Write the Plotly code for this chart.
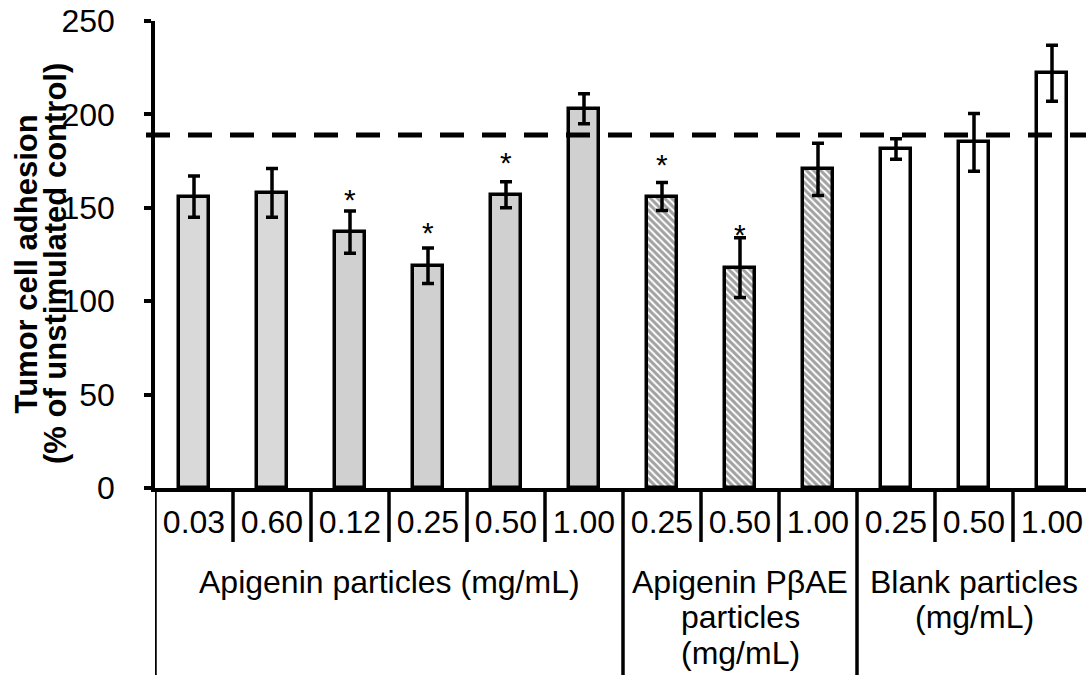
import plotly.graph_objects as go

# Concentration labels and group membership
conc_labels = ["0.03", "0.60", "0.12", "0.25", "0.50", "1.00",
               "0.25", "0.50", "1.00",
               "0.25", "0.50", "1.00"]
group_sizes = [6, 3, 3]
group_titles = [["Apigenin particles (mg/mL)"],
                ["Apigenin P\u03b2AE", "particles", "(mg/mL)"],
                ["Blank particles", "(mg/mL)"]]

# Tumor cell adhesion (% of unstimulated control) and error
adhesion = [156, 158, 137, 119, 157, 203, 156, 118, 170.6, 181.5, 185, 222]
adhesion_err = [11, 13, 11.3, 9.5, 7, 8, 7.5, 16, 14, 5.5, 15.5, 15]

# Significance markers: bar index and height of the asterisk
star_idx = [2, 3, 4, 6, 7]
star_y = [156.3, 138.3, 175.9, 175, 137.5]

# Reference level (unstimulated control baseline line)
reference_level = 189

fill_colors = ["#d9d9d9", "#d9d9d9", "#d0d0d0", "#d0d0d0", "#d0d0d0", "#d0d0d0",
               "white", "white", "white",
               "white", "white", "white"]
patterns = ["", "", "", "", "", "", "\\", "\\", "\\", "", "", ""]

FONT = "Arial, Liberation Sans, sans-serif"
LW = 3.5

W, H = 1086, 675
ML, MR, MT, MB = 155, 0, 21, 187
plot_w = W - ML - MR
plot_h = H - MT - MB
cat_px = 78.0

x = list(range(len(adhesion)))

fig = go.Figure()
fig.add_trace(go.Bar(
    x=x, y=adhesion, width=0.39,
    marker=dict(color=fill_colors,
                line=dict(color="black", width=3.5),
                pattern=dict(shape=patterns, fgcolor="#333333", bgcolor="white",
                             size=5, solidity=0.6, fillmode="overlay")),
    error_y=dict(type="data", array=adhesion_err, visible=True,
                 color="black", thickness=3.5, width=6),
    showlegend=False,
))

shapes = []
# Dashed reference line
shapes.append(dict(type="line", xref="paper", yref="y",
                   x0=-9 / plot_w, x1=1, y0=reference_level, y1=reference_level,
                   line=dict(color="black", width=5, dash="24px,18px"), layer="above"))

# Category dividers under the axis
short_y = -(54 / plot_h)
long_y = -((H - MT - plot_h) / plot_h) - 0.02
bounds = [-0.5]
for g in group_sizes:
    bounds.append(bounds[-1] + g)
group_edges = set(bounds)
for i in range(len(adhesion) + 1):
    b = i - 0.5
    y1 = long_y if b in group_edges else short_y
    shapes.append(dict(type="line", xref="x", yref="paper", x0=b, x1=b,
                       y0=0, y1=y1, line=dict(color="black", width=LW)))

annotations = []
# Asterisks above significant bars
for i, sy in zip(star_idx, star_y):
    annotations.append(dict(x=x[i], xref="x", y=sy, yref="y", text="*",
                            showarrow=False, xanchor="center", yanchor="middle",
                            yshift=-3,
                            font=dict(family=FONT, size=30, color="black")))

# Group titles
line_gap = 35.6
first_line_px = 581.7 - (MT + plot_h)
for gi, lines in enumerate(group_titles):
    cx = (bounds[gi] + bounds[gi + 1]) / 2
    for li, txt in enumerate(lines):
        ypx = first_line_px + li * line_gap
        annotations.append(dict(x=cx, xref="x", y=-ypx / plot_h, yref="paper",
                                text=txt, showarrow=False, xanchor="center",
                                yanchor="middle",
                                font=dict(family=FONT, size=32, color="black")))

# Y-axis title in two lines
for txt, xpx in [("Tumor cell adhesion", 25.5), ("(% of unstimulated control)", 55)]:
    annotations.append(dict(x=(xpx - ML) / plot_w, xref="paper",
                            y=(MT + plot_h - 264) / plot_h, yref="paper",
                            text="<b>" + txt + "</b>", textangle=-90, showarrow=False,
                            xanchor="center", yanchor="middle",
                            font=dict(family=FONT, size=31, color="black")))

fig.update_layout(
    width=W, height=H,
    margin=dict(l=ML, r=MR, t=MT, b=MB, pad=0),
    plot_bgcolor="white", paper_bgcolor="white",
    shapes=shapes, annotations=annotations,
    bargap=0,
    xaxis=dict(range=[-0.5, -0.5 + plot_w / cat_px],
               tickmode="array", tickvals=x, ticktext=conc_labels,
               ticks="", showgrid=False, zeroline=False,
               showline=True, linecolor="black", linewidth=LW,
               tickfont=dict(family=FONT, size=32, color="black"),
               ticklabelstandoff=3),
    yaxis=dict(range=[0, 250], tickmode="array", tickvals=[0, 50, 100, 150, 200, 250],
               ticks="outside", ticklen=7, tickwidth=LW, tickcolor="black",
               showgrid=False, zeroline=False,
               showline=True, linecolor="black", linewidth=LW,
               tickfont=dict(family=FONT, size=32, color="black"),
               ticklabelstandoff=23),
)

fig.write_html("out.html")
